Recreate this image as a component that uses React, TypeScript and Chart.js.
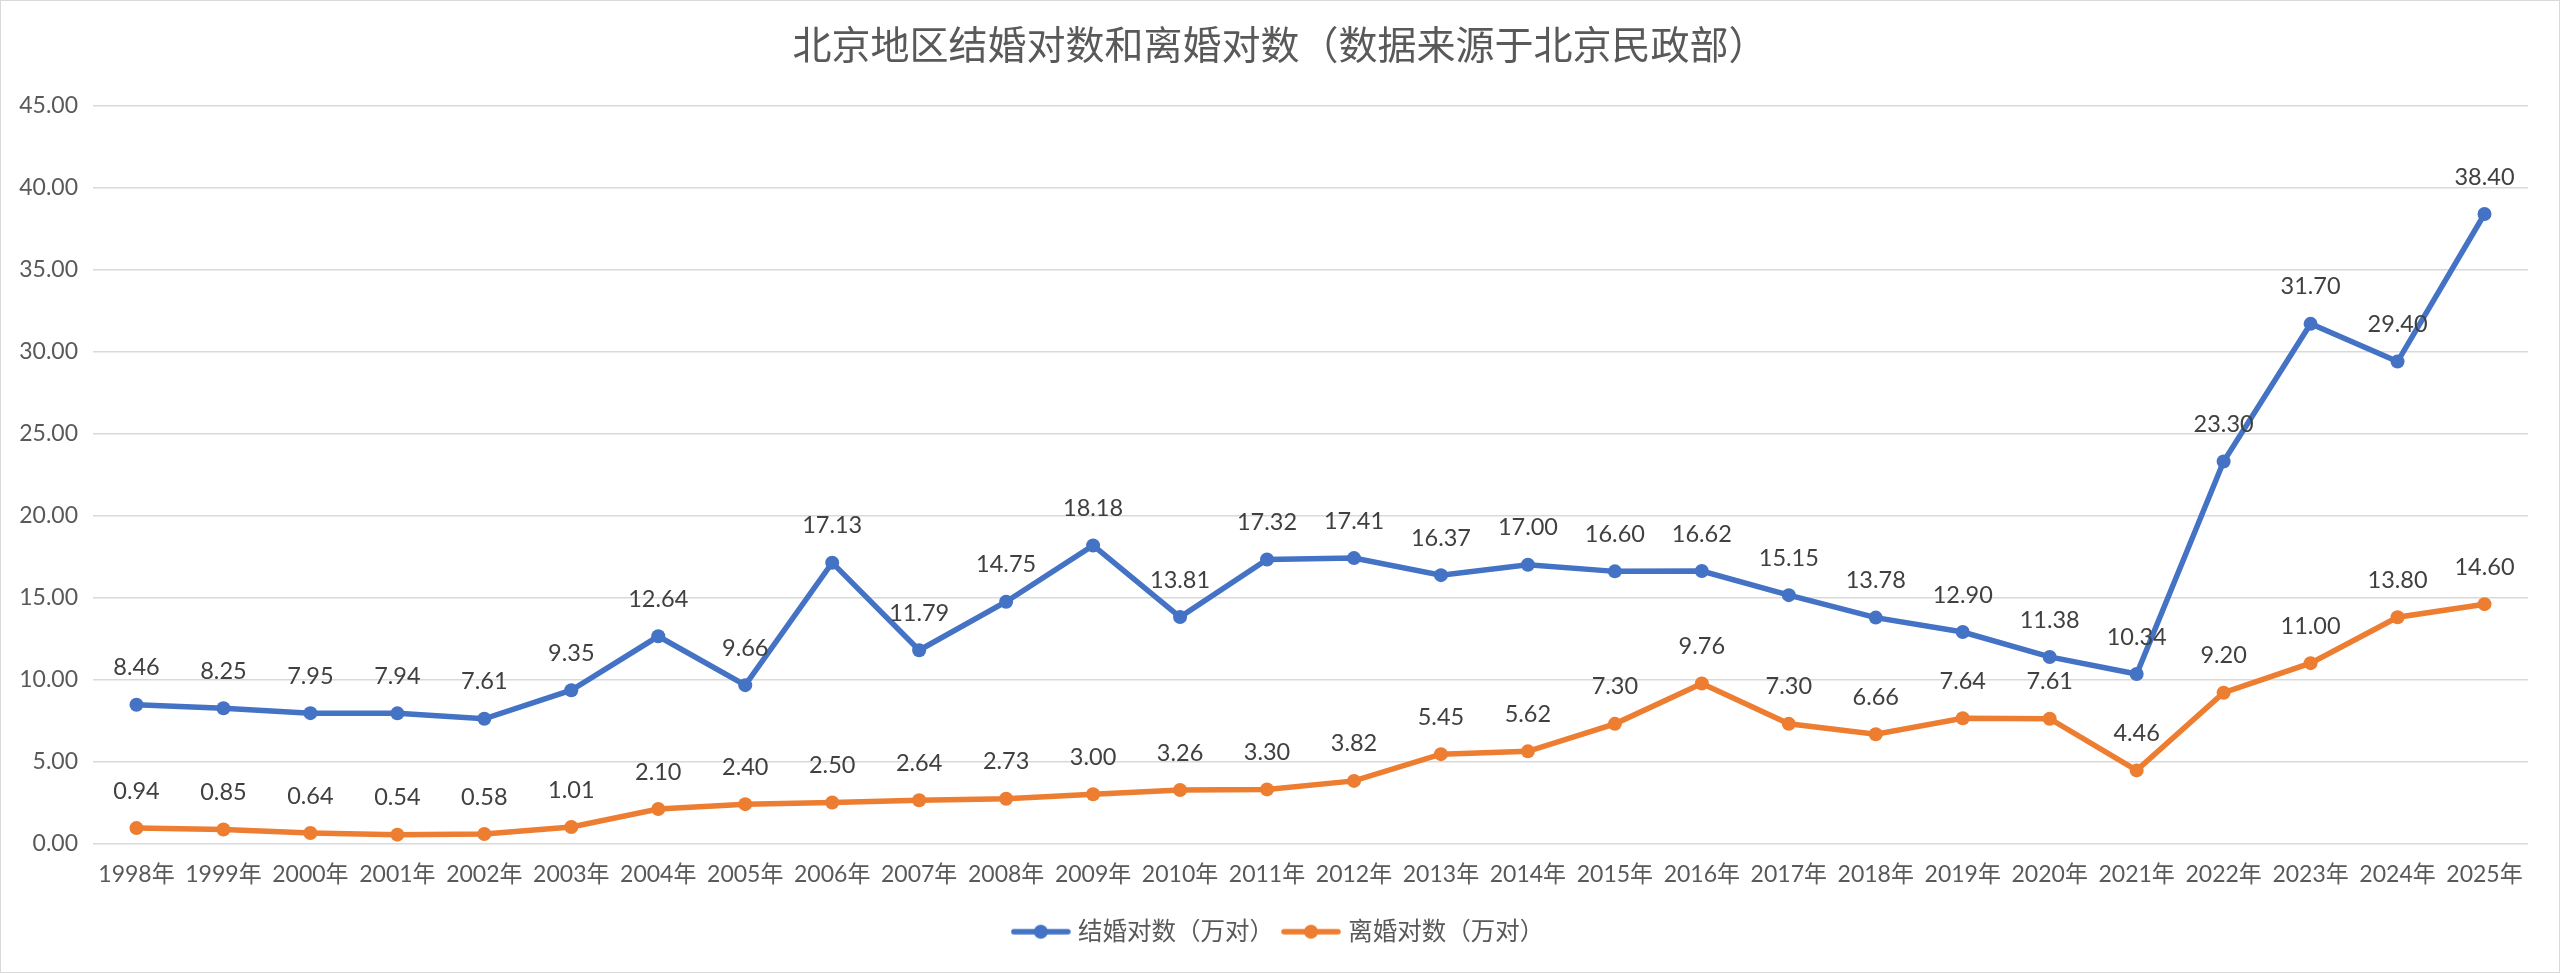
import React, { useEffect, useRef } from 'react';
import { Chart, registerables } from 'chart.js';

Chart.register(...registerables);

const years = [
  '1998年', '1999年', '2000年', '2001年', '2002年', '2003年', '2004年',
  '2005年', '2006年', '2007年', '2008年', '2009年', '2010年', '2011年',
  '2012年', '2013年', '2014年', '2015年', '2016年', '2017年', '2018年',
  '2019年', '2020年', '2021年', '2022年', '2023年', '2024年', '2025年',
];

const marriages = [
  8.46, 8.25, 7.95, 7.94, 7.61, 9.35, 12.64, 9.66, 17.13, 11.79, 14.75, 18.18, 13.81, 17.32,
  17.41, 16.37, 17.0, 16.6, 16.62, 15.15, 13.78, 12.9, 11.38, 10.34, 23.3, 31.7, 29.4, 38.4,
];

const divorces = [
  0.94, 0.85, 0.64, 0.54, 0.58, 1.01, 2.1, 2.4, 2.5, 2.64, 2.73, 3.0, 3.26, 3.3,
  3.82, 5.45, 5.62, 7.3, 9.76, 7.3, 6.66, 7.64, 7.61, 4.46, 9.2, 11.0, 13.8, 14.6,
];

const seriesNames = ['结婚对数（万对）', '离婚对数（万对）'];
const seriesColors = ['#4472C4', '#ED7D31'];

const yMin = 0;
const yMax = 45;
const yStep = 5;

const FONT = 'Lato, "Noto Sans CJK SC", sans-serif';

// draws the value above every point
const valueLabels = {
  id: 'valueLabels',
  afterDatasetsDraw(chart: any) {
    const { ctx } = chart;
    ctx.save();
    ctx.font = `23.5px ${FONT}`;
    ctx.fillStyle = '#404040';
    ctx.textAlign = 'center';
    ctx.textBaseline = 'middle';
    chart.data.datasets.forEach((ds: any, i: number) => {
      const meta = chart.getDatasetMeta(i);
      meta.data.forEach((pt: any, j: number) => {
        ctx.fillText(Number(ds.data[j]).toFixed(2), pt.x, pt.y - 37);
      });
    });
    ctx.restore();
  },
};

// line + dot icon for the legend
const makeIcon = (color: string) => {
  const c = document.createElement('canvas');
  c.width = 60;
  c.height = 18;
  const g = c.getContext('2d');
  if (g) {
    g.strokeStyle = color;
    g.lineWidth = 5.5;
    g.lineCap = 'round';
    g.beginPath();
    g.moveTo(3, 9);
    g.lineTo(57, 9);
    g.stroke();
    g.fillStyle = color;
    g.beginPath();
    g.arc(30, 9, 7, 0, Math.PI * 2);
    g.fill();
  }
  return c;
};

const MarriageChart: React.FC = () => {
  const chartRef = useRef<HTMLCanvasElement | null>(null);
  const chartInstanceRef = useRef<Chart | null>(null);

  useEffect(() => {
    if (!chartRef.current) return;
    const ctx = chartRef.current.getContext('2d');
    if (!ctx) return;

    if (chartInstanceRef.current) {
      chartInstanceRef.current.destroy();
    }

    const icons = seriesColors.map(makeIcon);

    const makeSet = (label: string, data: number[], color: string) => ({
      label,
      data,
      borderColor: color,
      backgroundColor: color,
      borderWidth: 5.5,
      pointRadius: 7,
      pointHoverRadius: 7,
      pointBorderWidth: 0,
      pointBackgroundColor: color,
      tension: 0,
      fill: false,
    });

    chartInstanceRef.current = new Chart(ctx, {
      type: 'line',
      data: {
        labels: years,
        datasets: [
          makeSet(seriesNames[0], marriages, seriesColors[0]),
          makeSet(seriesNames[1], divorces, seriesColors[1]),
        ],
      },
      plugins: [valueLabels],
      options: {
        responsive: true,
        maintainAspectRatio: false,
        animation: false,
        layout: {
          padding: { left: 0, right: 0, top: 0, bottom: 18 },
        },
        plugins: {
          title: {
            display: true,
            text: '北京地区结婚对数和离婚对数（数据来源于北京民政部）',
            color: '#595959',
            font: { size: 39, family: '"Noto Sans CJK SC", sans-serif', weight: 'normal' },
            padding: { top: 20, bottom: 38 },
          },
          legend: {
            display: true,
            position: 'bottom',
            labels: {
              usePointStyle: true,
              pointStyleWidth: 50,
              padding: 12,
              color: '#595959',
              font: { size: 24.5, family: FONT },
              generateLabels: (chart: any) =>
                chart.data.datasets.map((ds: any, i: number) => ({
                  text: ds.label,
                  pointStyle: icons[i],
                  fillStyle: seriesColors[i],
                  strokeStyle: seriesColors[i],
                  lineWidth: 0,
                  hidden: false,
                  datasetIndex: i,
                  fontColor: '#595959',
                })),
            },
          },
          tooltip: { enabled: false },
        },
        scales: {
          x: {
            offset: true,
            grid: { display: false, drawTicks: false },
            border: { display: false },
            ticks: {
              color: '#595959',
              padding: 17,
              maxRotation: 0,
              autoSkip: false,
              font: { size: 23, family: FONT },
            },
            afterFit: (axis: any) => {
              axis.height = 64;
            },
          },
          y: {
            min: yMin,
            max: yMax,
            grid: { color: '#d9d9d9', lineWidth: 1.5, drawTicks: false },
            border: { display: false },
            ticks: {
              stepSize: yStep,
              color: '#595959',
              padding: 15,
              font: { size: 23, family: FONT },
              callback: (v: any) => Number(v).toFixed(2),
            },
            afterFit: (axis: any) => {
              axis.width = 92;
            },
          },
          // empty right-hand gutter so title and legend stay centred on the canvas
          gutter: {
            type: 'linear',
            position: 'right',
            display: true,
            grid: { display: false, drawTicks: false },
            border: { display: false },
            ticks: { display: false },
            afterFit: (axis: any) => {
              axis.width = 31;
            },
          },
        },
      },
    } as any);

    return () => {
      if (chartInstanceRef.current) {
        chartInstanceRef.current.destroy();
        chartInstanceRef.current = null;
      }
    };
  }, []);

  return (
    <div
      style={{
        position: 'absolute',
        left: 0,
        top: 0,
        width: 2560,
        height: 973,
        boxSizing: 'border-box',
        border: '1px solid #d9d9d9',
        background: '#fff',
      }}
    >
      <canvas ref={chartRef}></canvas>
    </div>
  );
};

export default function App() {
  return <MarriageChart />;
}
